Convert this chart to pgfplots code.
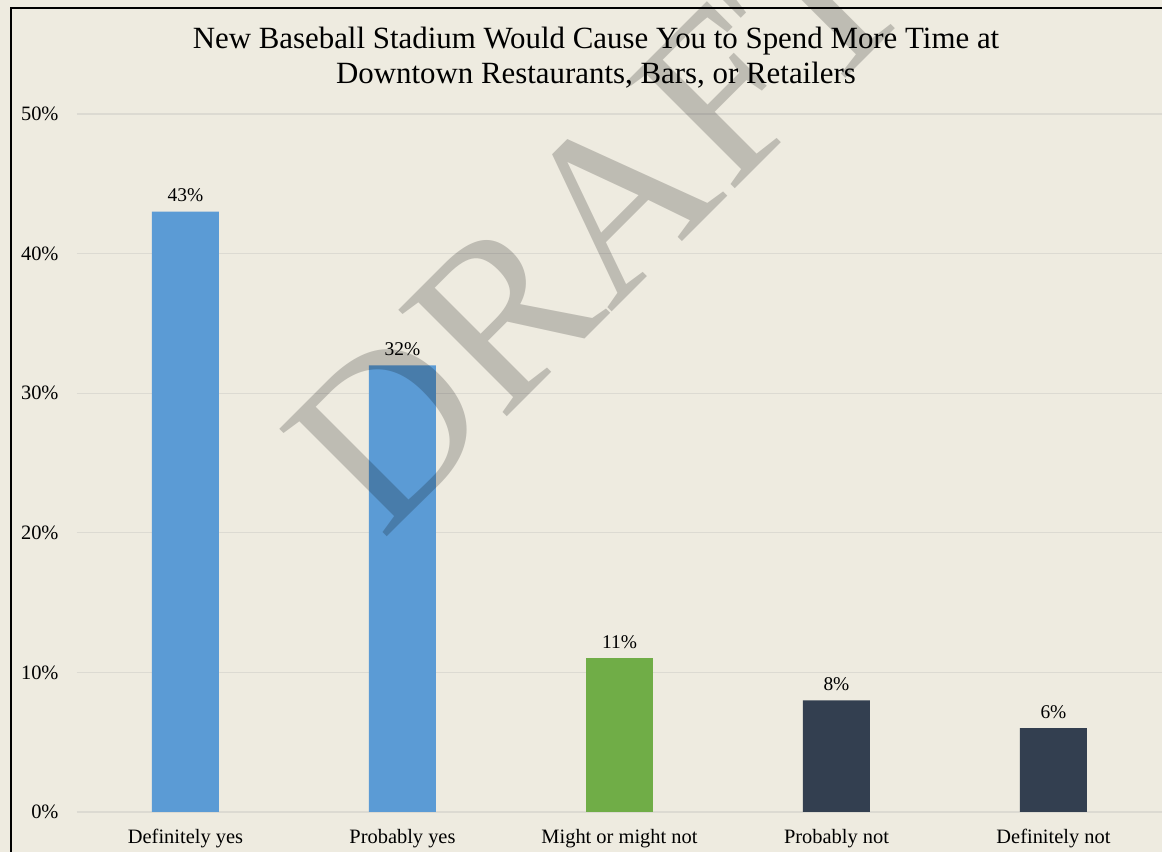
\documentclass[border=0pt]{standalone}
\usepackage{fontspec}
\setmainfont{Liberation Serif}
\usepackage{pgfplots}
\pgfplotsset{compat=1.18}
\definecolor{bgc}{HTML}{EEEBE0}
\definecolor{gridc}{HTML}{DCDAD2}
\definecolor{cblue}{HTML}{5B9BD5}
\definecolor{cgreen}{HTML}{70AD47}
\definecolor{cdark}{HTML}{333F50}
\begin{document}
\begin{tikzpicture}[x=1bp,y=1bp]
\useasboundingbox (-77,-40) rectangle (1085,812);
\clip (-77,-40) rectangle (1085,812);
\fill[bgc] (-77,-40) rectangle (1085,812);
\begin{axis}[
  at={(0,0)}, anchor=south west,
  scale only axis, width=1085bp, height=698bp,
  xmin=-0.5, xmax=4.5, ymin=0, ymax=50,
  ybar, bar width=67bp,
  axis line style={draw=none},
  major tick length=0pt,
  ytick={0,10,...,50},
  yticklabel={\pgfmathprintnumber{\tick}\%},
  /pgf/number format/assume math mode=true,
  ymajorgrids, grid style={gridc, line width=1.2bp},
  xtick={0,1,2,3,4},
  xticklabels={Definitely yes, Probably yes, Might or might not, Probably not, Definitely not},
  tick label style={font=\fontsize{20.5}{23}\selectfont, text=black},
  yticklabel style={xshift=-15bp},
  xticklabel style={yshift=-14bp},
  nodes near coords={\pgfmathprintnumber{\pgfplotspointmeta}\%},
  nodes near coords style={font=\fontsize{19.5}{22}\selectfont, text=black, /pgf/number format/assume math mode=true, yshift=6bp},
  clip=false,
]
\addplot[fill=cblue, draw=none, bar shift=0pt] coordinates {(0,43) (1,32)};
\addplot[fill=cgreen, draw=none, bar shift=0pt] coordinates {(2,11)};
\addplot[fill=cdark, draw=none, bar shift=0pt] coordinates {(3,8) (4,6)};
\end{axis}
\node[rotate=45, text=black, opacity=0.2, font=\fontsize{233}{233}\selectfont, inner sep=0pt] at (521,594) {DRAFT};
\node[align=center, font=\fontsize{31}{35}\selectfont, anchor=north, inner sep=0pt] at (519,785) {New Baseball Stadium Would Cause You to Spend More Time at\\Downtown Restaurants, Bars, or Retailers};
\draw[black, line width=1.5bp] (-66,-45) -- (-66,804) -- (1090,804);
\end{tikzpicture}
\end{document}
